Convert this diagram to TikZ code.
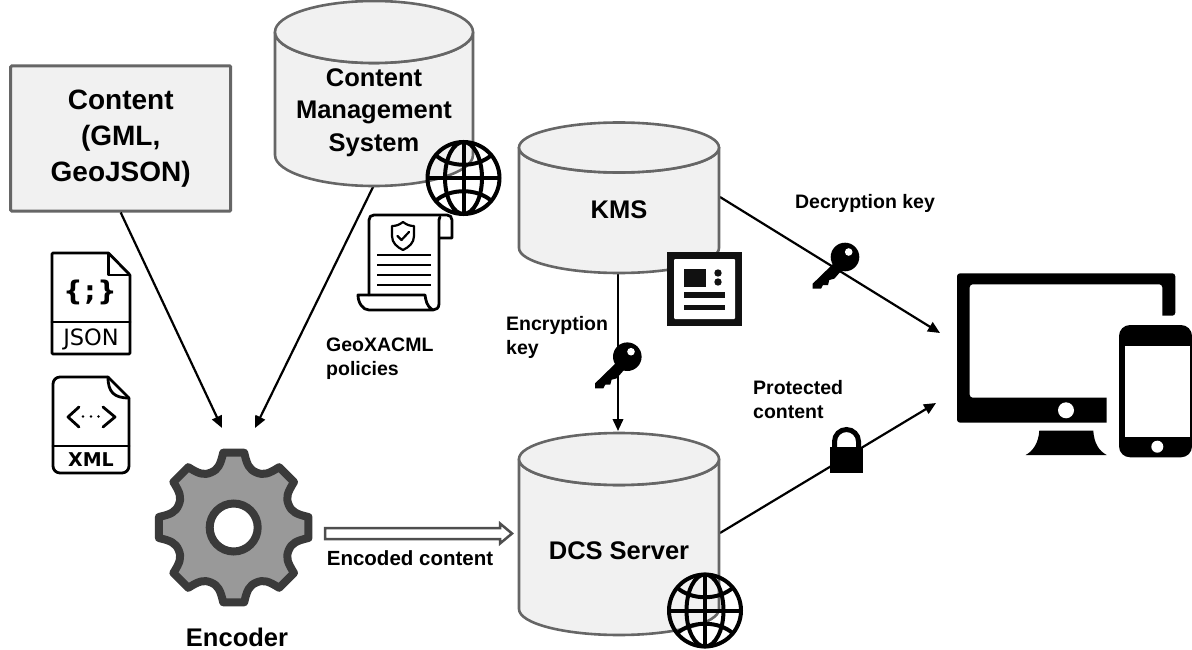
\documentclass[tikz,border=0pt]{standalone}
\usepackage{fontspec}
\setmainfont{Liberation Sans}
\newfontfamily\djsans{DejaVu Sans}
\newfontfamily\djmono{DejaVu Sans Mono}[FontFace={b}{n}{DejaVu Sans Mono Bold}]
\usetikzlibrary{arrows.meta}
\definecolor{boxfill}{HTML}{F1F1F1}
\definecolor{boxline}{HTML}{666666}
\definecolor{gearfill}{HTML}{999999}
\definecolor{gearline}{HTML}{3A3A3A}
\definecolor{ink}{HTML}{111111}
\tikzset{
  x=1pt,y=-1pt,
  lbl/.style={font=\bfseries\fontsize{#1}{#1}\selectfont,inner sep=0pt,text=black},
  cylshape/.style={draw=boxline,fill=boxfill,line width=2.6pt,line join=round},
  cylnode/.style={inner sep=0pt,align=center,font=\bfseries\fontsize{25.5}{32.5}\selectfont},
  conn/.style={draw=black,line width=2.2pt,-{Triangle[length=12pt,width=10.5pt]}},
  globeline/.style={draw=black,line width=4pt},
  iconline/.style={draw=black,line width=2.8pt,line join=round,line cap=round},
}
% #1 cx, #2 top-ellipse cy, #3 bottom cy, #4 rx, #5 ry
\newcommand{\cylbody}[5]{%
  \path[cylshape] ({#1-#4},#2) -- ({#1-#4},#3) arc[start angle=180,end angle=0,x radius=#4,y radius=#5] -- ({#1+#4},#2) arc[start angle=0,end angle=180,x radius=#4,y radius=#5] -- cycle;
  \path[cylshape] (#1,#2) ellipse[x radius=#4,y radius=#5];
}
\newcommand{\globeicon}[2]{%
  \begin{scope}[shift={(#1,#2)}]
    \draw[globeline] (0,0) circle[radius=36];
    \draw[globeline] (0,0) ellipse[x radius=18.5,y radius=36];
    \draw[globeline] (0,-36) -- (0,36);
    \draw[globeline] (-36,0) -- (36,0);
    \draw[globeline] (-28,-23) .. controls (-14,-10) and (14,-10) .. (28,-23);
    \draw[globeline] (-28,23) .. controls (-14,10) and (14,10) .. (28,23);
  \end{scope}}
\newcommand{\keyicon}[2]{%
  \begin{scope}[shift={(#1,#2)}]
    \fill[black] (-32.3,26.7) -- (-9,4) -- (0,0) -- (-3,13) -- (-10.7,21.7) -- (-15.7,23) -- (-17,28) -- (-22,28) -- (-24,31.7) -- (-32.3,31.7) -- cycle;
    \fill[black] (0,0) circle[radius=14.3];
    \fill[white] (3.7,-5) circle[radius=3.8];
  \end{scope}}
\begin{document}
\begin{tikzpicture}
\useasboundingbox (0,0) rectangle (1192,650);

% connectors' free ends
\coordinate (encA) at (222,428);
\coordinate (encB) at (255,428);
\coordinate (devA) at (940,333);
\coordinate (devB) at (936,403);
\coordinate (cmsOut) at (374,185);
\coordinate (kmsOut) at (720,197);
\coordinate (dcsOut) at (720,533);
\coordinate (kmsDown) at (618,273);
\coordinate (dcsIn) at (618,431);

% content box
\node[draw=boxline,fill=boxfill,line width=3pt,rounded corners=1pt,minimum width=220pt,minimum height=145pt,inner sep=0pt,align=center,font=\bfseries\fontsize{28}{36}\selectfont] (content) at (120.7,138.5) {Content\\(GML,\\GeoJSON)};

% connectors
\draw[conn] (content.south) -- (encA);
\draw[conn] (cmsOut) -- (encB);
\draw[conn] (kmsOut) -- (devA);
\draw[conn] (dcsOut) -- (devB);
\draw[conn] (kmsDown) -- (dcsIn);

% cylinders
\cylbody{374}{32}{155}{99}{31}
\node[cylnode] (cms) at (374,112.5) {Content\\Management\\System};
\cylbody{619}{147.5}{248}{100}{25}
\node[cylnode] (kms) at (619,210) {KMS};
\cylbody{619}{459}{609}{100}{26}
\node[cylnode] (dcs) at (619,551) {DCS Server};

\globeicon{463.5}{178}
\globeicon{705}{610.5}

% JSON file
\node[inner sep=0pt] (jsonfile) at (91,303) {};
\draw[iconline,rounded corners=1pt] (108.5,253) -- (52,253) -- (52,354) -- (130,354) -- (130,275) -- cycle;
\draw[iconline] (108.5,253) -- (108.5,275) -- (130,275);
\draw[iconline] (52,322) -- (130,322);
\node[inner sep=0pt,font=\djsans\bfseries\fontsize{27}{27}\selectfont] (jsonbrace) at (90,292) {\{\kern2pt;\kern2pt\}};
\node[inner sep=0pt,font=\djsans\fontsize{22.5}{22.5}\selectfont] (jsonword) at (91,339) {JSON};

% XML file
\draw[iconline,rounded corners=7pt] (108,377) -- (53,377) -- (53,473) -- (129,473) -- (129,398);
\draw[iconline] (108,377) -- (129,398);
\draw[iconline] (108,377) .. controls (108,392) and (114,398) .. (129,398);
\draw[iconline] (53,446) -- (129,446);
\draw[iconline] (79,407) -- (68,417) -- (79,427);
\draw[iconline] (103,407) -- (115,417) -- (103,427);
\fill (83,416.5) circle[radius=1.3] (91,416.5) circle[radius=1.3] (98.5,416.5) circle[radius=1.3];
\node[inner sep=0pt,font=\djsans\bfseries\fontsize{19}{19}\selectfont] (xmlword) at (91,460) {XML};

% gear
\begin{scope}[shift={(233.7,527.5)}]
  \path[draw=gearline,fill=gearfill,line width=8pt,line join=round]
    (-8:75.5) \foreach \a in {0,45,...,315}{
      -- (\a+8:75.5) .. controls (\a+12:64) and (\a+15:60) .. (\a+22.5:59.5) .. controls (\a+30:60) and (\a+33:64) .. (\a+37:75.5)
    } -- cycle;
  \draw[draw=gearline,fill=white,line width=8pt] (0,0) circle[radius=24];
\end{scope}

% hollow arrow
\coordinate (hollowA) at (325,533.5);
\coordinate (hollowB) at (512,533.5);
\draw[draw=gearline!90,fill=white,line width=2.5pt,line join=miter]
  (hollowA) ++(0,-5.5) -- (500,528) -- (500,523.5) -- (hollowB) -- (500,543.5) -- (500,539) -- (325,539) -- cycle;

% policy scroll
\draw[iconline] (369,295) -- (369,220) .. controls (369,217) and (371,215) .. (374,215) -- (447,215) .. controls (450,215) and (452,217) .. (452,220) -- (452,238) -- (440,238);
\draw[iconline] (440,217) .. controls (439,218) and (439,220) .. (439,223) -- (439,304) .. controls (439,308) and (436,310) .. (433,310) -- (369,310) .. controls (363,310) and (358,303) .. (358,295) -- (425,295) .. controls (426,300) and (426,306) .. (433,310);
\foreach \yy in {255,265,275,285} \draw[draw=black,line width=2.6pt] (377,\yy) -- (431,\yy);
\draw[iconline,line width=2.2pt] (403,222) .. controls (407,225) and (410,226) .. (414,226) -- (414,236) .. controls (414,243) and (409,247) .. (403,250) .. controls (397,247) and (392,243) .. (392,236) -- (392,226) .. controls (396,226) and (399,225) .. (403,222) -- cycle;
\draw[iconline,line width=2.2pt] (397.5,236) -- (401.5,240) -- (409,232);

% server panel
\fill[ink] (667,252) rectangle (742,326);
\fill[white,rounded corners=1pt] (674,259) rectangle (735,319);
\fill[ink] (684,269) rectangle (706,287);
\fill[ink] (718,273) circle[radius=3.7] (718,282) circle[radius=3.7];
\fill[ink] (684,292) rectangle (725,297.5);
\fill[ink] (684,305) rectangle (725,310);

% keys
\keyicon{627.3}{356.7}
\keyicon{845}{257}

% lock
\draw[draw=black,line width=5pt] (834.5,448) -- (834.5,441.5) arc[start angle=180,end angle=360,radius=12] -- (858.5,448);
\fill[black] (830,447) rectangle (863,473);

% devices
\fill[black,rounded corners=3pt] (957,273.3) -- (1175.3,273.3) -- (1175.3,315.7) [sharp corners] -- (1162.3,315.7) [rounded corners=3pt] -- (1162.3,284.3) -- (969.7,284.3) -- (969.7,397.7) [sharp corners] -- (1106.7,397.7) -- (1106.7,422.7) [rounded corners=3pt] -- (957,422.7) -- cycle;
\fill[white] (1066,410.3) circle[radius=8];
\fill[black] (1039.3,430.7) -- (1093.3,430.7) .. controls (1094,443) and (1099,451) .. (1106.7,455) -- (1025.7,455) .. controls (1033,451) and (1038.5,443) .. (1039.3,430.7) -- cycle;
\fill[black,rounded corners=11pt] (1119,325) rectangle (1192,457.3);
\fill[white] (1124.7,346.3) rectangle (1190.3,436.7);
\fill[white] (1157.3,446.7) circle[radius=6];

% labels
\node[lbl=25.5] (encoder) at (237,637) {Encoder};
\node[lbl=19.5,anchor=west,align=left,font=\bfseries\fontsize{19.5}{24}\selectfont] (policies) at (326,359) {GeoXACML\\policies};
\node[lbl=19.5,anchor=west,align=left,font=\bfseries\fontsize{19.5}{24}\selectfont] (enckey) at (506,337) {Encryption\\key};
\node[lbl=19.5] (deckey) at (865,203) {Decryption key};
\node[lbl=19.5,anchor=west,align=left,font=\bfseries\fontsize{19.5}{24}\selectfont] (protected) at (753,400) {Protected\\content};
\node[lbl=20.5] (enccontent) at (410,558) {Encoded content};
\end{tikzpicture}
\end{document}
